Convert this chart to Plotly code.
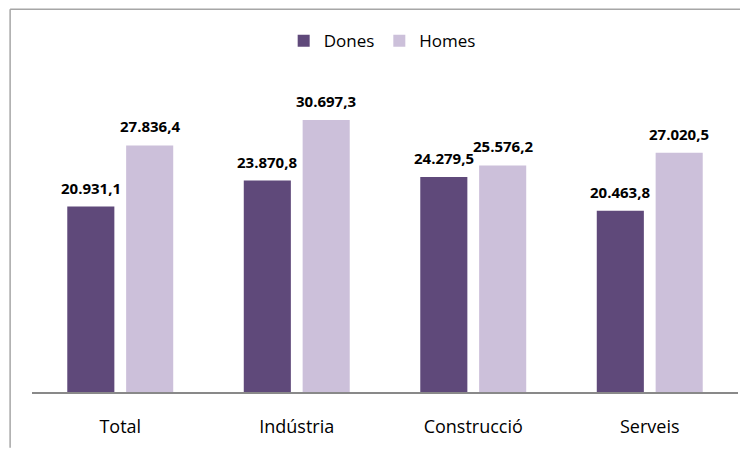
import plotly.graph_objects as go

# valors (euros)
categories = ['Total', 'Indústria', 'Construcció', 'Serveis']
dones = [20931.1, 23870.8, 24279.5, 20463.8]
homes = [27836.4, 30697.3, 25576.2, 27020.5]
series = [('Dones', dones, '#5f497a'), ('Homes', homes, '#ccc0da')]


def fmt(v):
    # format català: punt de milers, coma decimal
    s = f'{v:,.1f}'
    return s.replace(',', 'X').replace('.', ',').replace('X', '.')


fig = go.Figure()
for name, vals, col in series:
    fig.add_trace(go.Bar(
        x=categories, y=vals, name=name,
        marker=dict(color=col, line=dict(width=0)),
        hoverinfo='skip',
    ))

# etiquetes de dades per sobre de cada barra
for i, (name, vals, col) in enumerate(series):
    shift = -29.5 if i == 0 else 29.5
    for c, v in zip(categories, vals):
        fig.add_annotation(
            x=c, y=v, text='<b>' + fmt(v) + '</b>',
            showarrow=False, xshift=shift, yshift=7, yanchor='bottom',
            font=dict(family='Open Sans', size=15, color='#000000'),
        )

# marc del gràfic (només vores superior i esquerra), sense sortir del svg
frame = dict(color='#a6a6a6', width=1.5)
fig.add_shape(type='line', xref='paper', yref='paper',
              x0=-0.031, x1=1.01, y0=1.235, y1=1.235, line=frame, layer='above')
fig.add_shape(type='line', xref='paper', yref='paper',
              x0=-0.031, x1=-0.031, y0=-0.18, y1=1.235, line=frame, layer='above')

fig.update_layout(
    width=740, height=444,
    margin=dict(l=24, r=10, t=74, b=60),
    paper_bgcolor='#ffffff', plot_bgcolor='#ffffff',
    barmode='group', bargap=0.333, bargroupgap=0.2,
    font=dict(family='Open Sans', size=17, color='#000000'),
    legend=dict(orientation='h', x=0.496, xanchor='center', y=1.132, yanchor='middle',
                font=dict(size=17), itemwidth=30, bgcolor='rgba(0,0,0,0)'),
    xaxis=dict(showline=True, linecolor='#898989', linewidth=2, ticks='',
               showgrid=False, ticklabelstandoff=17, tickfont=dict(size=18)),
    yaxis=dict(range=[0, 35000], visible=False, showgrid=False, zeroline=False),
    showlegend=True,
)

fig.write_html('out.html')
